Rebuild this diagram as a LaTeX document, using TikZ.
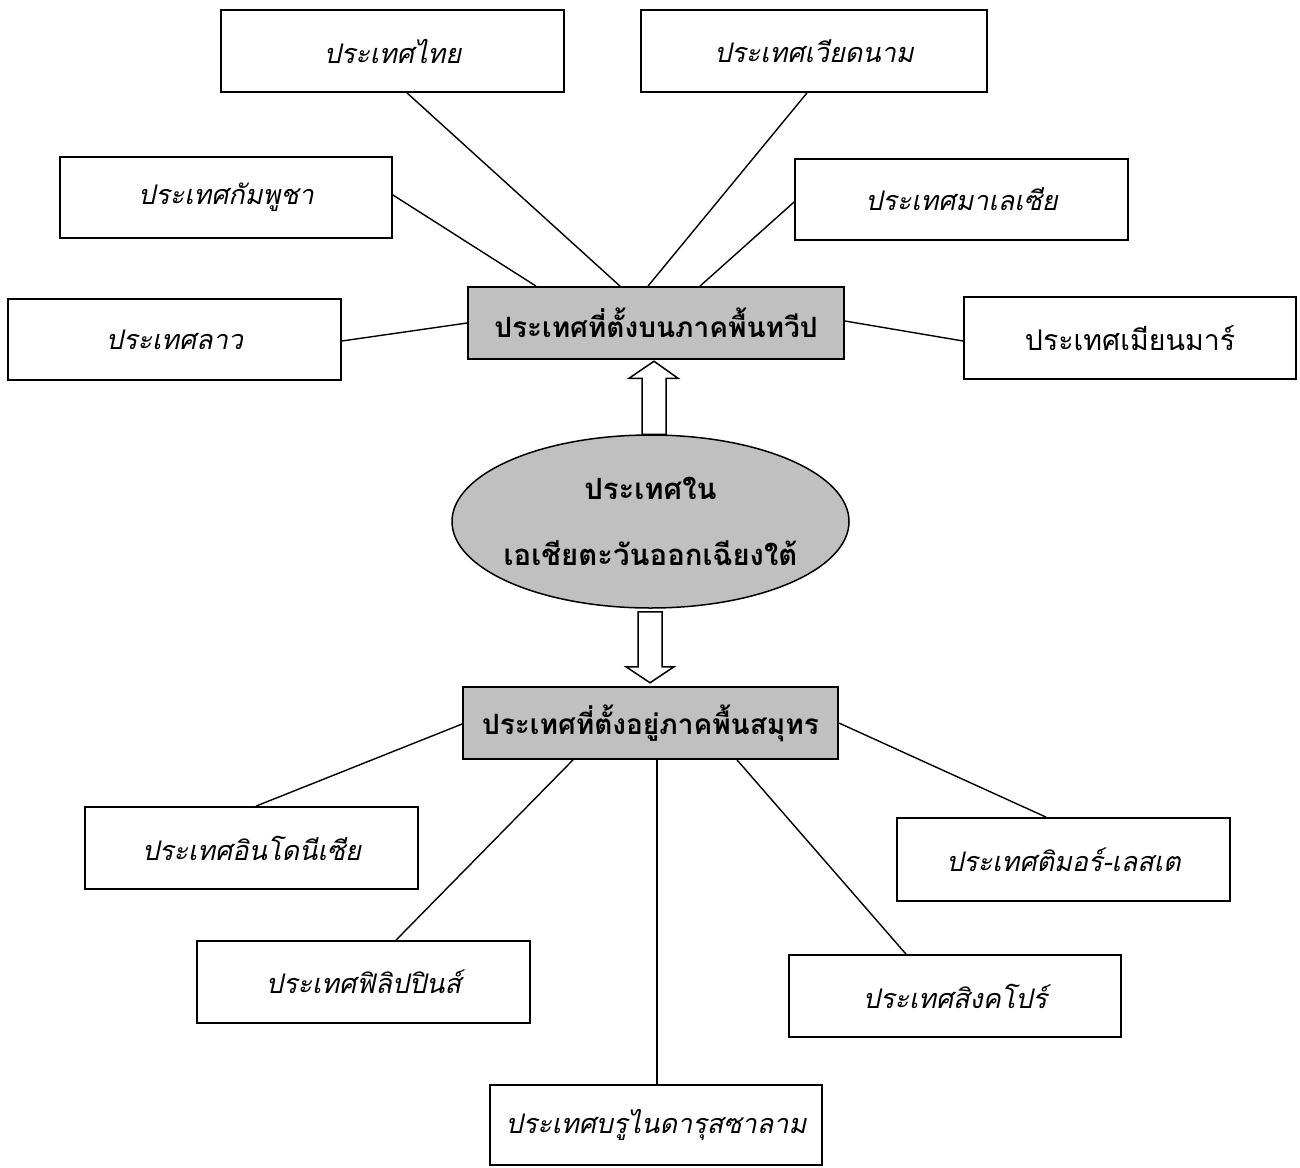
\documentclass[tikz,border=0pt]{standalone}
\usepackage{fontspec}
\newfontfamily\thaifont[Script=Thai]{Loma}
\usetikzlibrary{calc,shapes.geometric}

\tikzset{
  country/.style={draw, line width=1.8pt, rectangle, inner sep=0pt,
    minimum width=333pt, minimum height=82pt,
    font=\thaifont\itshape\fontsize{27}{33}\selectfont},
  upright/.style={font=\thaifont\upshape\fontsize{28.5}{34}\selectfont},
  hub/.style={draw, line width=1.8pt, rectangle, inner sep=0pt,
    fill={rgb, 255:red, 192; green, 192; blue, 192 },
    minimum width=376pt, minimum height=72pt,
    font=\thaifont\bfseries\fontsize{28}{34}\selectfont},
  link/.style={draw, line width=1.4pt},
  hollow/.style={draw, line width=1.5pt, fill=white, line join=miter}
}

\begin{document}
\begin{tikzpicture}[x=1pt,y=1pt,yscale=-1]
\useasboundingbox (0,0) rectangle (1300,1167);

% Centre
\node [ellipse, draw, line width=1.5pt, inner xsep=-14pt, inner ysep=0pt,
  fill={rgb, 255:red, 192; green, 192; blue, 192 },
  minimum width=397pt, minimum height=173pt, align=center,
  font=\thaifont\bfseries\fontsize{29.3}{66}\selectfont] (asean) at (650.5,521.5)
  {ประเทศใน\\เอเชียตะวันออกเฉียงใต้};

% Hubs
\node [hub] (land) at (656,323) {ประเทศที่ตั้งบนภาคพื้นทวีป};
\node [hub, minimum width=375pt] (sea) at (650.5,723) {ประเทศที่ตั้งอยู่ภาคพื้นสมุทร};

% Mainland countries
\node [country, minimum width=343pt] (thai) at (392.5,51) {ประเทศไทย};
\node [country, minimum width=346pt] (viet) at (814,51) {ประเทศเวียดนาม};
\node [country, minimum width=332pt, minimum height=81pt] (camb) at (226,197.5) {ประเทศกัมพูชา};
\node [country, minimum height=81pt] (malay) at (961.5,199.5) {ประเทศมาเลเซีย};
\node [country, minimum height=81pt] (laos) at (174.5,339.5) {ประเทศลาว};
\node [country, upright, minimum width=332pt] (myan) at (1130,338) {ประเทศเมียนมาร์};

% Maritime countries
\node [country] (indo) at (251.5,848) {ประเทศอินโดนีเซีย};
\node [country, minimum height=83pt] (timor) at (1063.5,859.5) {ประเทศติมอร์-เลสเต};
\node [country] (phil) at (363.5,982) {ประเทศฟิลิปปินส์};
\node [country, minimum width=332pt] (sing) at (955,996) {ประเทศสิงคโปร์};
\node [country, minimum width=332pt, minimum height=80pt] (brunei) at (656,1125) {ประเทศบรูไนดารุสซาลาม};

%Straight Lines
\draw [link] ($(thai.south)+(14.5,0)$) -- ($(land.north)+(-36,0)$);
\draw [link] ($(viet.south)+(-7,0)$) -- ($(land.north)+(-8,0)$);
\draw [link] ($(camb.east)+(0,-2.5)$) -- ($(land.north)+(-120,0)$);
\draw [link] ($(malay.west)+(0,2.5)$) -- ($(land.north)+(44,0)$);
\draw [link] ($(laos.east)+(0,1.5)$) -- (land.west);
\draw [link] ($(land.east)+(0,-2)$) -- ($(myan.west)+(0,3)$);

\draw [link] ($(sea.west)+(0,1)$) -- ($(indo.north)+(4.5,0)$);
\draw [link] ($(sea.south)+(-77.5,0)$) -- ($(phil.north)+(32.5,0)$);
\draw [link] ($(sea.south)+(6.5,0)$) -- ($(brunei.north)+(1,0)$);
\draw [link] ($(sea.south)+(86.5,0)$) -- ($(sing.north)+(-49,0)$);
\draw [link] (sea.east) -- ($(timor.north)+(-17.5,0)$);

%Block Arrows
\coordinate (up) at ($(asean.north)+(3.5,0)$);
\coordinate (down) at ($(asean.south)+(-0.5,3)$);
\draw [hollow] ($(up)+(-12,0)$) -- ++(0,-56) -- ++(-13,0) -- ++(25,-17) -- ++(24,17) -- ++(-12,0) -- ++(0,56) -- cycle;
\draw [hollow] ($(down)+(-12,0)$) -- ++(0,55) -- ++(-12,0) -- ++(24,16) -- ++(24,-16) -- ++(-12,0) -- ++(0,-55) -- cycle;

\end{tikzpicture}
\end{document}
